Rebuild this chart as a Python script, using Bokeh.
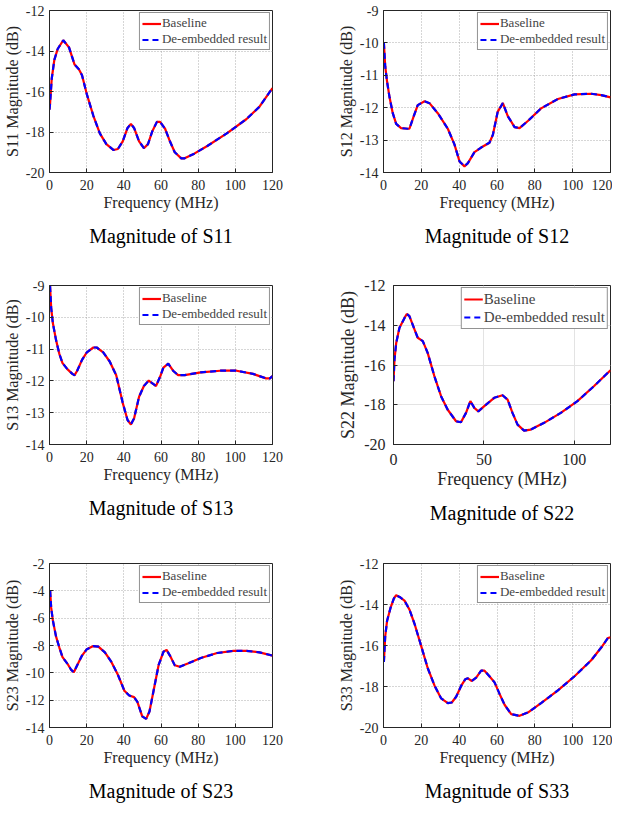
from bokeh.plotting import figure
from bokeh.layouts import column, row
from bokeh.models import FixedTicker, Range1d
from bokeh.embed import file_html
from bokeh.resources import INLINE

FONT = "Liberation Serif"

# ---------------- data ----------------
freq_ticks = [0, 20, 40, 60, 80, 100, 120]
freq_ticks_s22 = [0, 50, 100]

s11_freq = [0.0, 0.3, 1.2, 2.6, 4.4, 7.4, 10.5, 13.5, 15.8, 17.5, 20.1, 23.6, 27.1, 30.6, 34.5,
            36.8, 39.4, 42.0, 43.8, 45.5, 48.2, 50.8, 53.0, 55.2, 57.8, 59.5, 62.2, 64.8, 67.4,
            70.9, 72.7, 77.9, 84.9, 95.4, 105.9, 112.9, 120.0]
s11_base = [-16.9, -16.6, -15.37, -14.44, -13.9, -13.47, -13.82, -14.67, -14.9, -15.2, -16.14,
            -17.2, -18.07, -18.6, -18.89, -18.84, -18.46, -17.8, -17.6, -17.8, -18.46, -18.8,
            -18.6, -17.99, -17.5, -17.5, -17.84, -18.46, -19.0, -19.3, -19.3, -19.07, -18.69,
            -18.07, -17.37, -16.76, -15.83]
s11_deemb = [-16.9, -16.6, -15.37, -14.44, -13.9, -13.47, -13.82, -14.67, -14.9, -15.2, -16.14,
             -17.2, -18.07, -18.6, -18.89, -18.84, -18.46, -17.8, -17.6, -17.8, -18.46, -18.8,
             -18.6, -17.99, -17.5, -17.5, -17.84, -18.46, -19.0, -19.3, -19.3, -19.07, -18.69,
             -18.07, -17.37, -16.76, -15.83]
s11_yticks = [-20, -18, -16, -14, -12]

s12_freq = [0.2, 0.9, 1.9, 3.2, 4.9, 6.7, 9.3, 12.9, 13.7, 16.0, 18.1, 21.7, 24.3, 28.7, 34.0,
            37.5, 40.2, 42.8, 44.6, 48.1, 51.6, 56.0, 57.8, 60.4, 63.1, 65.7, 69.3, 71.9, 76.3,
            83.3, 92.2, 101.0, 109.8, 115.1, 120.0]
s12_base = [-10.0, -10.72, -11.2, -11.68, -12.17, -12.5, -12.63, -12.65, -12.65, -12.26, -11.92,
            -11.8, -11.86, -12.17, -12.65, -13.13, -13.66, -13.81, -13.71, -13.37, -13.23, -13.08,
            -12.84, -12.12, -11.86, -12.26, -12.6, -12.63, -12.41, -12.02, -11.73, -11.59, -11.57,
            -11.61, -11.68]
s12_deemb = [-10.0, -10.72, -11.2, -11.68, -12.17, -12.5, -12.63, -12.65, -12.65, -12.26, -11.92,
             -11.8, -11.86, -12.17, -12.65, -13.13, -13.66, -13.81, -13.71, -13.37, -13.23, -13.08,
             -12.84, -12.12, -11.86, -12.26, -12.6, -12.63, -12.41, -12.02, -11.73, -11.59, -11.57,
             -11.61, -11.68]
s12_yticks = [-14, -13, -12, -11, -10, -9]

s13_freq = [0.3, 0.9, 1.8, 3.5, 5.3, 7.0, 9.6, 12.3, 13.5, 14.9, 17.5, 20.1, 23.6, 25.4, 28.9,
            32.4, 35.9, 39.4, 42.0, 43.8, 45.5, 48.2, 50.8, 53.4, 55.2, 57.3, 59.5, 61.3, 63.9,
            66.5, 69.2, 72.7, 81.4, 91.9, 100.7, 109.5, 116.5, 118.6, 120.0]
s13_base = [-9.02, -9.7, -10.18, -10.71, -11.15, -11.44, -11.63, -11.78, -11.82, -11.68, -11.34,
            -11.1, -10.95, -10.95, -11.1, -11.39, -11.82, -12.69, -13.23, -13.37, -13.18, -12.5,
            -12.16, -11.99, -12.07, -12.16, -11.87, -11.58, -11.46, -11.68, -11.82, -11.82,
            -11.73, -11.68, -11.68, -11.78, -11.92, -11.92, -11.85]
s13_deemb = [-9.02, -9.7, -10.18, -10.71, -11.15, -11.44, -11.63, -11.78, -11.82, -11.68, -11.34,
             -11.1, -10.95, -10.95, -11.1, -11.39, -11.82, -12.69, -13.23, -13.37, -13.18, -12.5,
             -12.16, -11.99, -12.07, -12.16, -11.87, -11.58, -11.46, -11.68, -11.82, -11.82,
             -11.73, -11.68, -11.68, -11.78, -11.92, -11.92, -11.85]
s13_yticks = [-14, -13, -12, -11, -10, -9]

s22_freq = [0.0, 0.55, 1.5, 3.3, 6.1, 7.35, 8.8, 11.6, 13.4, 16.2, 18.9, 22.6, 26.3, 29.9, 34.6,
            37.3, 40.1, 42.5, 44.7, 46.9, 50.2, 55.7, 60.3, 63.1, 65.8, 68.6, 72.2, 75.9, 83.3,
            92.5, 101.7, 110.8, 120.0]
s22_base = [-16.82, -15.72, -14.89, -14.13, -13.63, -13.43, -13.54, -14.21, -14.63, -14.8,
            -15.39, -16.56, -17.57, -18.24, -18.83, -18.88, -18.41, -17.82, -18.16, -18.33,
            -18.07, -17.65, -17.52, -17.74, -18.41, -19.0, -19.3, -19.25, -18.91, -18.41,
            -17.82, -17.07, -16.26]
s22_deemb = [-16.82, -15.72, -14.89, -14.13, -13.63, -13.43, -13.54, -14.21, -14.63, -14.8,
             -15.39, -16.56, -17.57, -18.24, -18.83, -18.88, -18.41, -17.82, -18.16, -18.33,
             -18.07, -17.65, -17.52, -17.74, -18.41, -19.0, -19.3, -19.25, -18.91, -18.41,
             -17.82, -17.07, -16.26]
s22_yticks = [-20, -18, -16, -14, -12]

s23_freq = [0.35, 0.9, 1.8, 3.5, 5.3, 7.0, 9.6, 11.7, 13.1, 14.9, 17.5, 20.1, 23.6, 26.3, 29.8,
            33.3, 36.8, 40.3, 42.9, 45.5, 47.3, 49.9, 52.0, 53.8, 56.0, 58.7, 61.3, 63.0, 64.8,
            67.4, 70.1, 74.4, 81.4, 90.2, 99.0, 106.0, 113.0, 120.0]
s23_base = [-4.01, -5.23, -6.16, -7.33, -8.15, -8.85, -9.32, -9.79, -9.95, -9.44, -8.74, -8.27,
            -8.04, -8.08, -8.5, -9.2, -10.14, -11.31, -11.66, -11.78, -12.13, -13.18, -13.37,
            -12.83, -11.31, -9.44, -8.46, -8.32, -8.74, -9.44, -9.56, -9.32, -8.92, -8.55,
            -8.39, -8.39, -8.5, -8.74]
s23_deemb = [-4.01, -5.23, -6.16, -7.33, -8.15, -8.85, -9.32, -9.79, -9.95, -9.44, -8.74, -8.27,
             -8.04, -8.08, -8.5, -9.2, -10.14, -11.31, -11.66, -11.78, -12.13, -13.18, -13.37,
             -12.83, -11.31, -9.44, -8.46, -8.32, -8.74, -9.44, -9.56, -9.32, -8.92, -8.55,
             -8.39, -8.39, -8.5, -8.74]
s23_yticks = [-14, -12, -10, -8, -6, -4, -2]

s33_freq = [0.2, 0.9, 1.9, 3.7, 5.5, 6.7, 8.5, 11.1, 13.7, 16.4, 19.9, 23.4, 27.0, 30.5, 34.0,
            36.1, 38.4, 41.1, 43.2, 44.6, 46.7, 49.0, 51.6, 53.4, 56.0, 58.7, 61.3, 64.0, 67.5,
            71.9, 76.3, 83.3, 92.2, 101.0, 109.8, 115.1, 118.6, 120.0]
s33_base = [-16.8, -15.56, -14.79, -14.17, -13.7, -13.55, -13.63, -13.81, -14.24, -14.94,
            -16.02, -17.11, -17.96, -18.58, -18.81, -18.78, -18.5, -17.96, -17.65, -17.6,
            -17.73, -17.57, -17.23, -17.23, -17.5, -17.8, -18.35, -18.89, -19.35, -19.43,
            -19.27, -18.81, -18.19, -17.5, -16.72, -16.1, -15.64, -15.6]
s33_deemb = [-16.8, -15.56, -14.79, -14.17, -13.7, -13.55, -13.63, -13.81, -14.24, -14.94,
             -16.02, -17.11, -17.96, -18.58, -18.81, -18.78, -18.5, -17.96, -17.65, -17.6,
             -17.73, -17.57, -17.23, -17.23, -17.5, -17.8, -18.35, -18.89, -19.35, -19.43,
             -19.27, -18.81, -18.19, -17.5, -16.72, -16.1, -15.64, -15.6]
s33_yticks = [-20, -18, -16, -14, -12]

legend_labels = ["Baseline", "De-embedded result"]
x_label = "Frequency (MHz)"


def make_panel(freq, base, deemb, yticks, xticks, ylabel, caption,
               width, height, bl, br, bt, bb,
               tick_fs="14px", label_fs="16px", legend_fs="13px",
               cap_fs="20px", matlab_grid=True, cap_standoff=18,
               x_std=7, x_lab_std=1, y_std=5, y_lab_std=2, leg_row=15):
    p = figure(width=width, height=height, output_backend="svg", toolbar_location=None,
               x_range=Range1d(0, 120), y_range=Range1d(yticks[0], yticks[-1]),
               min_border_left=bl, min_border_right=br, min_border_top=bt,
               min_border_bottom=bb, title_location="below")
    p.title.text = caption
    p.title.align = "center"
    p.title.text_font = FONT
    p.title.text_font_size = cap_fs
    p.title.text_font_style = "normal"
    p.title.text_color = "black"
    p.title.standoff = cap_standoff

    p.background_fill_color = "white"
    p.border_fill_color = "white"
    p.outline_line_color = "#262626"
    p.outline_line_width = 1
    p.outline_line_alpha = 1

    p.line(freq, base, line_color="#ff0000", line_width=2.2, legend_label=legend_labels[0])
    p.line(freq, deemb, line_color="#0000ff", line_width=2.2, line_dash="6 4",
           legend_label=legend_labels[1])

    p.xaxis.ticker = FixedTicker(ticks=xticks)
    p.yaxis.ticker = FixedTicker(ticks=yticks)
    p.xaxis.major_label_overrides = {t: str(t) for t in xticks}
    p.yaxis.major_label_overrides = {t: str(t) for t in yticks}
    p.xaxis.axis_label = x_label
    p.yaxis.axis_label = ylabel
    for ax in (p.xaxis[0], p.yaxis[0]):
        ax.axis_label_text_font = FONT
        ax.axis_label_text_font_size = label_fs
        ax.axis_label_text_font_style = "normal"
        ax.axis_label_text_color = "#262626"
        ax.major_label_text_font = FONT
        ax.major_label_text_font_size = tick_fs
        ax.major_label_text_color = "#262626"
        ax.axis_line_color = "#262626"
        ax.major_tick_in = 4
        ax.major_tick_out = 0
        ax.major_tick_line_color = "#262626"
        ax.minor_tick_line_color = None
    p.xaxis.major_label_standoff = x_std
    p.yaxis.major_label_standoff = y_std
    p.xaxis.axis_label_standoff = x_lab_std
    p.yaxis.axis_label_standoff = y_lab_std

    if matlab_grid:
        p.grid.grid_line_color = "#9a9a9a"
        p.grid.grid_line_dash = "1 2"
        p.grid.grid_line_alpha = 0.8
    else:
        p.grid.grid_line_color = "#e3e3e3"
        p.grid.grid_line_alpha = 1

    lg = p.legend[0]
    lg.location = "top_right"
    lg.margin = 2
    lg.padding = 2
    lg.spacing = 0
    lg.border_line_color = "#262626"
    lg.border_line_width = 1
    lg.background_fill_color = "white"
    lg.background_fill_alpha = 1
    lg.label_text_font = FONT
    lg.label_text_font_size = legend_fs
    lg.label_standoff = 1
    lg.glyph_width = 19
    lg.glyph_height = leg_row
    lg.label_height = leg_row
    lg.label_text_baseline = "middle"
    return p


p11 = make_panel(s11_freq, s11_base, s11_deemb, s11_yticks, freq_ticks,
                 "S11 Magnitude (dB)", "Magnitude of S11", 306, 272, 44, 34, 10, 100)
p12 = make_panel(s12_freq, s12_base, s12_deemb, s12_yticks, freq_ticks,
                 "S12 Magnitude (dB)", "Magnitude of S12", 306, 272, 77, 2, 10, 100)
p13 = make_panel(s13_freq, s13_base, s13_deemb, s13_yticks, freq_ticks,
                 "S13 Magnitude (dB)", "Magnitude of S13", 306, 280, 44, 34, 9, 98)
p22 = make_panel(s22_freq, s22_base, s22_deemb, s22_yticks, freq_ticks_s22,
                 "S22 Magnitude (dB)", "Magnitude of S22", 306, 280, 87, 2, 13, 108,
                 tick_fs="16px", label_fs="18px", legend_fs="15px", matlab_grid=False,
                 cap_standoff=16, x_std=9, y_std=8, y_lab_std=3, leg_row=18)
p23 = make_panel(s23_freq, s23_base, s23_deemb, s23_yticks, freq_ticks,
                 "S23 Magnitude (dB)", "Magnitude of S23", 306, 258, 44, 34, 11, 76)
p33 = make_panel(s33_freq, s33_base, s33_deemb, s33_yticks, freq_ticks,
                 "S33 Magnitude (dB)", "Magnitude of S33", 306, 258, 77, 2, 10, 76)

layout = column(row(p11, p12), row(p13, p22), row(p23, p33))

open("out.html", "w").write(file_html(layout, INLINE))
